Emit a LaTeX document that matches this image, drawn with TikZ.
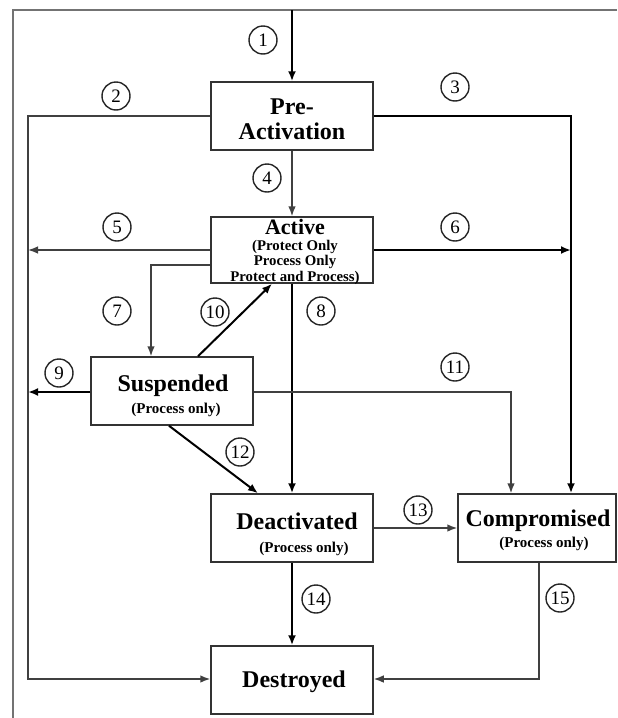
\documentclass[tikz,border=0pt]{standalone}
\usepackage{fontspec}
\setmainfont{Liberation Serif}
\usetikzlibrary{arrows.meta}

\newcommand{\bigname}[1]{{\fontsize{12}{12.5}\selectfont #1}}

\begin{document}
\begin{tikzpicture}[x=0.5pt,y=-0.5pt,
  statebox/.style={draw=black!80, line width=0.75pt,
    minimum width=81pt, minimum height=34pt, inner sep=0pt},
  boxtext/.style={inner sep=0pt, align=center,
    font=\bfseries\fontsize{12}{12.5}\selectfont},
  subtext/.style={inner sep=0pt, align=center,
    font=\bfseries\fontsize{7.5}{8}\selectfont},
  tag/.style={circle, draw=black!85, line width=0.7pt, minimum size=14pt,
    inner sep=0pt, font=\fontsize{9.5}{10}\selectfont},
  thinline/.style={draw=black!75, line width=0.75pt,
    -{Latex[length=5pt,width=3.8pt]}},
  thickline/.style={draw=black, line width=1.3pt,
    -{Latex[length=5pt,width=4pt]}},
  frame/.style={draw=black!55, line width=1pt}
]
\useasboundingbox (0,0) rectangle (617,718);

% outer frame
\draw[frame] (617,10) -- (13,10) -- (13,718);

% state boxes
\node[statebox] (pre)  at (292,116) {};
\node[statebox, minimum height=33pt] (act) at (292,250) {};
\node[statebox] (sus)  at (172,391) {};
\node[statebox] (deac) at (292,528) {};
\node[statebox, minimum width=79pt] (comp) at (537,528) {};
\node[statebox] (des)  at (292,680) {};

% state names
\node[boxtext] (preName) at (292,119) {Pre-\\Activation};
\node[subtext, font=\bfseries\fontsize{7.4}{7.6}\selectfont] (actName) at (295,252)
  {{\fontsize{11}{11.5}\selectfont Active}\\[0.3pt](Protect Only\\Process Only\\Protect and Process)};
\node[subtext] (susName) at (173,396)
  {\bigname{Suspended}\\[3pt]\hspace*{3pt}(Process only)};
\node[subtext] (deacName) at (297,534)
  {\bigname{Deactivated}\\[3.5pt]\hspace*{7pt}(Process only)};
\node[subtext] (compName) at (538,530)
  {\bigname{Compromised}\\[2.5pt]\hspace*{6pt}(Process only)};
\node[boxtext] (desName) at (294,682) {Destroyed};

% free end of the entry transition
\coordinate (start) at (292,10);

% transitions
\draw[thickline] (start) -- (pre.north);                                  % 1
\draw[thinline] (pre.west |- 0,116) -- (28,116) -- (28,679)
  -- (des.west |- 0,679);                                                 % 2
\draw[thickline] (pre.east |- 0,116) -- (571,116) -- (571,0 |- comp.north); % 3
\draw[thinline] (pre.south) -- (act.north);                               % 4
\draw[thinline] (act.west |- 0,250) -- (28,250);                          % 5
\draw[thickline] (act.east |- 0,250) -- (571,250);                        % 6
\draw[thinline] (act.west |- 0,265) -- (151,265) -- (151,0 |- sus.north); % 7
\draw[thickline] (act.south) -- (deac.north);                             % 8
\draw[thickline] (sus.west |- 0,392) -- (28,392);                         % 9
\draw[thickline, line width=1pt] (198,0 |- sus.north) -- (272,0 |- act.south); % 10
\draw[thinline] (sus.east |- 0,392) -- (511,392) -- (511,0 |- comp.north); % 11
\draw[thickline, line width=1pt] (169,0 |- sus.south) -- (258,0 |- deac.north); % 12
\draw[thinline] (deac.east |- 0,528) -- (comp.west |- 0,528);             % 13
\draw[thickline] (deac.south) -- (des.north);                             % 14
\draw[thinline] (539,0 |- comp.south) -- (539,679) -- (des.east |- 0,679); % 15

% transition numbers
\node[tag] (t1)  at (263,40)  {1};
\node[tag] (t2)  at (116,96)  {2};
\node[tag] (t3)  at (455,87)  {3};
\node[tag] (t4)  at (267,178) {4};
\node[tag] (t5)  at (117,227) {5};
\node[tag] (t6)  at (455,227) {6};
\node[tag] (t7)  at (117,311) {7};
\node[tag] (t8)  at (321,311) {8};
\node[tag] (t9)  at (59,373)  {9};
\node[tag] (t10) at (215,312) {10};
\node[tag] (t11) at (455,367) {11};
\node[tag] (t12) at (240,452) {12};
\node[tag] (t13) at (418,510) {13};
\node[tag] (t14) at (316,599) {14};
\node[tag] (t15) at (560,598) {15};
\end{tikzpicture}
\end{document}
